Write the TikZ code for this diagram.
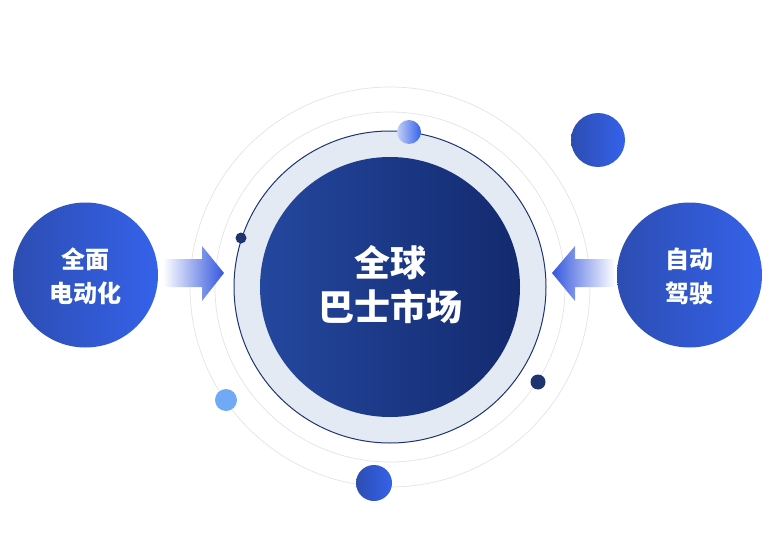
\documentclass[tikz,border=0pt]{standalone}
\usepackage{fontspec}
\newfontfamily\cjk{Noto Sans CJK SC}
\definecolor{mainL}{HTML}{24479F}
\definecolor{mainR}{HTML}{132A6E}
\definecolor{sideL}{HTML}{2C4DB2}
\definecolor{sideR}{HTML}{3562EA}
\definecolor{ringfill}{HTML}{E4EAF3}
\definecolor{navy}{HTML}{1E3470}
\definecolor{arrowblue}{HTML}{3557DD}
\definecolor{lightdot}{HTML}{70A9F5}
\definecolor{paleblue}{HTML}{C3D0F6}
\definecolor{greyring}{HTML}{E3E3E3}
\tikzset{
  maintext/.style={text=white, align=center, font={\cjk\bfseries\fontsize{36}{44}\selectfont}},
  sidetext/.style={text=white, align=center, font={\cjk\bfseries\fontsize{24}{34}\selectfont}},
  grey ring/.style={draw=greyring, line width=0.7pt},
}
\begin{document}
\begin{tikzpicture}[x=1pt,y=-1pt]
\useasboundingbox (0,0) rectangle (774,543);
% grey rings
\draw[grey ring] (390,287) circle[radius=200];
\draw[grey ring] (390,287) circle[radius=175];
% light ring with navy outline
\fill[ringfill] (390,287) circle[radius=156];
\draw[navy, line width=1pt] (390,287) circle[radius=156];
% main circle
\shade[left color=mainL, right color=mainR] (390,287) circle[radius=130];
\node[maintext] (main) at (390,285) {全球\\巴士市场};
% side circles
\shade[left color=sideL, right color=sideR] (85.5,275) circle[radius=72.5];
\node[sidetext] (left) at (85.5,276) {全面\\电动化};
\shade[left color=sideL, right color=sideR] (689.5,275) circle[radius=72.5];
\node[sidetext] (right) at (689.5,276) {自动\\驾驶};
% arrows
\shade[left color=white, right color=arrowblue]
  (163,259) -- (202,259) -- (202,246) -- (224,273) -- (202,301) -- (202,287) -- (163,287) -- cycle;
\shade[left color=arrowblue, right color=white]
  (615,259) -- (575,259) -- (575,246) -- (552,273) -- (575,301) -- (575,287) -- (615,287) -- cycle;
% decorative dots
\shade[left color=paleblue, right color=sideR] (409,132) circle[radius=12];
\fill[navy] (241,238) circle[radius=5.5];
\fill[navy] (538,382) circle[radius=7.5];
\fill[lightdot] (226,400) circle[radius=11];
\shade[left color=sideL, right color=sideR] (374,483) circle[radius=18];
\shade[left color=sideL, right color=sideR] (598,140) circle[radius=27];
\end{tikzpicture}
\end{document}
